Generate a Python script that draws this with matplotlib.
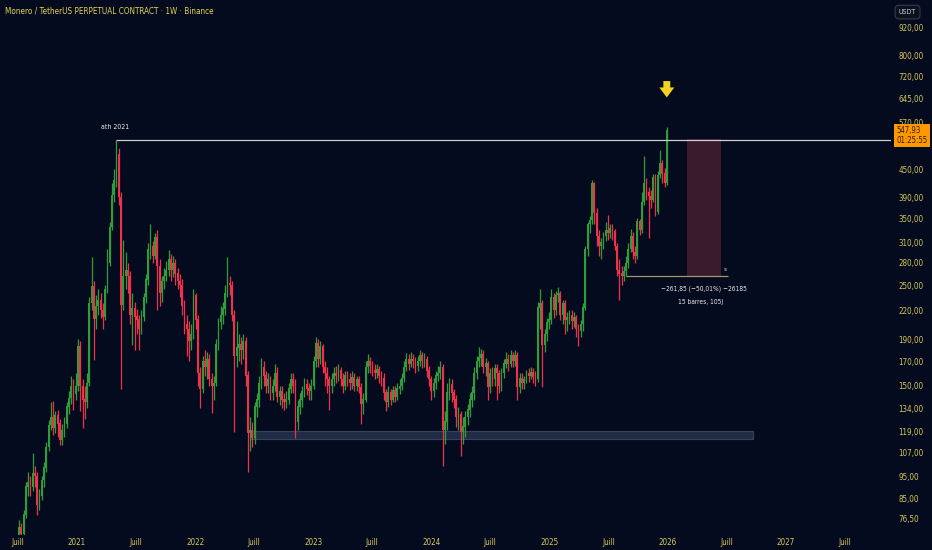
import numpy as np
import pandas as pd
import matplotlib
matplotlib.use("Agg")
import matplotlib.pyplot as plt
import matplotlib.dates as mdates
import matplotlib.transforms as mtransforms
from matplotlib.patches import Rectangle
from matplotlib import font_manager

# weekly XMR/USDT candles, first week 2020-07-06
first_open = 70
closes = [
    73, 71, 78, 90, 92, 90, 96, 95, 82, 86,
    93, 99, 110, 123, 128, 121, 129, 124, 114, 120,
    124, 135, 141, 150, 144, 150, 183, 150, 140, 138,
    152, 228, 249, 211, 225, 232, 220, 213, 245, 280,
    335, 395, 425, 485, 390, 226, 262, 270, 262, 215,
    222, 213, 210, 200, 213, 235, 257, 300, 305, 290,
    318, 275, 240, 255, 262, 270, 285, 270, 280, 265,
    255, 250, 225, 205, 200, 188, 195, 237, 210, 160,
    148, 170, 165, 172, 155, 150, 152, 185, 207, 215,
    222, 240, 252, 250, 215, 175, 182, 185, 180, 188,
    158, 118, 120, 115, 135, 140, 152, 165, 158, 150,
    155, 145, 150, 160, 142, 146, 140, 138, 140, 148,
    155, 150, 125, 135, 140, 146, 151, 148, 146, 150,
    170, 186, 172, 183, 165, 160, 155, 150, 155, 160,
    158, 162, 155, 150, 158, 155, 152, 157, 150, 155,
    149, 137, 140, 165, 170, 166, 162, 160, 163, 158,
    156, 145, 138, 145, 140, 147, 142, 148, 150, 156,
    165, 172, 168, 172, 170, 166, 170, 175, 170, 172,
    162, 155, 146, 152, 158, 160, 165, 120, 125, 145,
    151, 145, 140, 128, 130, 119, 122, 128, 133, 140,
    145, 160, 170, 173, 176, 165, 168, 149, 160, 155,
    164, 160, 150, 160, 168, 172, 168, 175, 170, 175,
    149, 156, 152, 155, 160, 158, 161, 157, 155, 223,
    228, 185, 195, 207, 210, 235, 220, 238, 240, 215,
    228, 210, 212, 215, 208, 212, 200, 198, 205, 223,
    300, 340, 348, 420, 360, 320, 305, 310, 320, 330,
    325, 334, 328, 305, 270, 265, 262, 268, 280, 300,
    320, 295, 290, 345, 330, 380, 420, 400, 392, 385,
    432, 362, 437, 465, 440, 420, 547.93,
]
highs = [
    76, 75, 80, 92, 97, 95, 107, 100, 97, 89,
    95, 102, 113, 126, 138, 139, 132, 133, 127, 124,
    128, 138, 146, 158, 155, 160, 190, 188, 155, 150,
    160, 235, 288, 255, 238, 245, 240, 228, 250, 300,
    345, 420, 450, 522, 500, 400, 314, 295, 280, 268,
    240, 230, 222, 215, 220, 240, 265, 310, 340, 312,
    325, 330, 285, 262, 272, 282, 298, 292, 290, 285,
    272, 265, 258, 232, 215, 208, 205, 245, 240, 215,
    165, 175, 180, 178, 176, 160, 158, 190, 212, 225,
    230, 250, 288, 262, 255, 220, 208, 195, 192, 195,
    192, 162, 128, 125, 138, 145, 158, 173, 170, 162,
    160, 158, 155, 168, 165, 150, 150, 145, 146, 152,
    160, 160, 155, 140, 145, 150, 156, 155, 152, 155,
    175, 192, 190, 188, 186, 170, 165, 158, 160, 165,
    166, 168, 165, 160, 162, 162, 160, 162, 160, 158,
    158, 152, 145, 170, 176, 174, 170, 168, 168, 166,
    162, 160, 148, 150, 148, 150, 150, 152, 155, 160,
    170, 177, 176, 178, 176, 174, 175, 180, 178, 177,
    175, 166, 158, 156, 162, 166, 170, 168, 132, 152,
    156, 155, 148, 143, 135, 132, 128, 132, 137, 145,
    150, 165, 175, 183, 181, 180, 173, 170, 164, 165,
    168, 168, 163, 164, 172, 178, 176, 180, 178, 180,
    178, 160, 160, 158, 163, 164, 165, 164, 162, 230,
    245, 232, 200, 212, 218, 245, 240, 243, 248, 243,
    232, 232, 218, 220, 220, 218, 215, 205, 210, 228,
    305, 345, 355, 425, 422, 370, 330, 318, 328, 345,
    356, 340, 340, 332, 310, 285, 275, 275, 290, 310,
    332, 328, 305, 352, 350, 400, 480, 430, 410, 405,
    440, 438, 445, 496, 472, 452, 556,
]
lows = [
    66, 68, 70, 77, 86, 86, 88, 90, 78, 80,
    84, 90, 97, 108, 120, 117, 118, 116, 111, 111,
    116, 121, 130, 137, 133, 140, 146, 132, 121, 127,
    134, 150, 220, 171, 200, 215, 212, 200, 210, 240,
    275, 330, 380, 410, 375, 148, 220, 245, 240, 205,
    185, 180, 195, 180, 195, 208, 228, 250, 285, 280,
    285, 220, 225, 230, 245, 255, 262, 255, 260, 250,
    245, 235, 215, 195, 175, 170, 180, 190, 200, 150,
    134, 145, 158, 155, 150, 131, 140, 150, 180, 200,
    205, 215, 235, 238, 208, 119, 165, 170, 168, 172,
    150, 97, 108, 110, 112, 128, 135, 148, 150, 145,
    145, 140, 140, 146, 138, 136, 134, 133, 134, 137,
    145, 145, 115, 120, 130, 135, 142, 143, 140, 140,
    148, 165, 165, 168, 160, 150, 145, 133, 145, 150,
    152, 154, 150, 145, 147, 150, 147, 148, 146, 146,
    145, 124, 130, 138, 160, 160, 158, 155, 156, 152,
    150, 140, 132, 135, 136, 138, 138, 140, 144, 147,
    153, 162, 163, 165, 164, 160, 162, 166, 164, 165,
    157, 150, 140, 142, 148, 154, 155, 100, 112, 120,
    140, 138, 134, 122, 120, 105, 112, 116, 123, 128,
    135, 140, 155, 165, 166, 160, 158, 140, 145, 150,
    150, 140, 145, 146, 156, 164, 162, 165, 165, 166,
    140, 145, 148, 148, 152, 153, 155, 152, 150, 153,
    200, 149, 178, 188, 200, 205, 212, 215, 230, 210,
    205, 195, 198, 205, 200, 202, 192, 184, 192, 198,
    220, 290, 325, 340, 340, 305, 290, 285, 300, 312,
    315, 318, 315, 298, 262, 232, 250, 255, 262, 272,
    295, 285, 280, 285, 322, 325, 375, 385, 318, 370,
    380, 355, 358, 430, 420, 410, 415,
]

price_ticks = [76.5, 85, 95, 107, 119, 134, 150, 170, 190, 220, 250, 280,
               310, 350, 390, 450, 570, 645, 720, 800, 920]
ath_price = 522
support_low, support_high = 114.5, 119.7
range_top, range_bottom = 523.7, 261.85

bg = "#050b1e"
txt = "#d8c85a"
up_col = "#2f9e3a"
dn_col = "#ef3249"

# prefer a narrow face, TradingView labels are condensed
fonts = font_manager.fontManager.ttflist
names = {f.name for f in fonts}
if "Liberation Sans Narrow" in names:
    plt.rcParams["font.family"] = ["Liberation Sans Narrow", "DejaVu Sans"]
elif any(f.name == "DejaVu Sans" and "condensed" in str(f.stretch) for f in fonts):
    plt.rcParams["font.family"] = ["DejaVu Sans"]
    plt.rcParams["font.stretch"] = "condensed"
else:
    plt.rcParams["font.family"] = ["DejaVu Sans"]

weeks = pd.date_range("2020-07-06", periods=len(closes), freq="7D")
x = mdates.date2num(weeks)
c = np.array(closes, dtype=float)
o = np.array([first_open] + closes[:-1], dtype=float)
h = np.array(highs, dtype=float)
l = np.array(lows, dtype=float)
cols = np.where(c >= o, up_col, dn_col)

fig = plt.figure(figsize=(9.32, 5.5), dpi=100, facecolor=bg)
ax = fig.add_axes([0, 15 / 550, 891 / 932, 535 / 550], facecolor=bg)

ax.vlines(x, l, h, colors=cols, linewidth=0.9, zorder=3)
ax.bar(x, np.abs(c - o) + 0.3, bottom=np.minimum(o, c), width=5.4,
       color=cols, linewidth=0, zorder=4)

ax.set_yscale("log")
ax.set_ylim(70.5, 1060)
ax.set_xlim(mdates.date2num(pd.Timestamp("2020-05-08")),
            mdates.date2num(pd.Timestamp("2027-11-22")))

# ath line
ax.hlines(ath_price, x[43], ax.get_xlim()[1], color="#cfcfcf", linewidth=0.9, zorder=5)
ax.text(x[43] - 4, 558, "ath 2021", color="#e8e8e8", fontsize=5,
        ha="center", va="center", zorder=6)

# support zone
s0 = mdates.date2num(pd.Timestamp("2022-06-20"))
s1 = mdates.date2num(pd.Timestamp("2026-09-21"))
ax.add_patch(Rectangle((s0, support_low), s1 - s0, support_high - support_low,
                       facecolor="#24304a", edgecolor="#3a4866", linewidth=0.8,
                       alpha=0.9, zorder=2))

# projected range box
r0 = mdates.date2num(pd.Timestamp("2026-03-02"))
r1 = mdates.date2num(pd.Timestamp("2026-06-15"))
ax.add_patch(Rectangle((r0, range_bottom), r1 - r0, range_top - range_bottom,
                       facecolor="#3a1a2d", edgecolor="none", zorder=2))
t0 = mdates.date2num(pd.Timestamp("2025-08-25"))
t1 = mdates.date2num(pd.Timestamp("2026-07-06"))
ax.hlines(range_bottom, t0, t1, color="#a2956a", linewidth=0.9, zorder=5)
ax.text(t1 - 10, range_bottom * 1.035, "s", color="#e8e8e8", fontsize=4.5,
        ha="center", va="center")
rc = (r0 + r1) / 2
ax.text(rc, 245, "\u2212261,85 (\u221250,01%) \u221226185", color="#e8e8e8",
        fontsize=4.8, ha="center", va="center")
ax.text(rc - 12, 229.5, "15 barres, 105j", color="#e8e8e8", fontsize=4.8,
        ha="center", va="center")

# yellow arrow over last candle
ax.annotate("", xy=(x[-1], 647), xytext=(x[-1], 703),
            arrowprops=dict(arrowstyle="simple,head_length=0.8,head_width=1.2,tail_width=0.55",
                            mutation_scale=9, color="#f3d21c", lw=0,
                            shrinkA=0, shrinkB=0))

# axes styling
for sp in ax.spines.values():
    sp.set_visible(False)
ax.yaxis.tick_right()
ax.set_yticks(price_ticks)
ax.set_yticklabels([f"{v:.2f}".replace(".", ",") for v in price_ticks])
ax.yaxis.set_minor_locator(matplotlib.ticker.NullLocator())
ax.tick_params(axis="y", length=0, pad=5.5, labelsize=5.8, labelcolor=txt)

xt, xl = [], []
for yr in range(2020, 2028):
    if yr > 2020:
        xt.append(pd.Timestamp(f"{yr}-01-01"))
        xl.append(str(yr))
    xt.append(pd.Timestamp(f"{yr}-07-01"))
    xl.append("Juill")
ax.set_xticks(mdates.date2num(xt))
ax.set_xticklabels(xl)
ax.tick_params(axis="x", length=0, pad=2, labelsize=5.8, labelcolor=txt)

# last price tag
tr = mtransforms.blended_transform_factory(fig.transFigure, ax.transData)
ax.text(0.9615, 534, f"{closes[-1]:.2f}".replace(".", ",") + "\n01:25:55",
        transform=tr, fontsize=5.6, color="#2a1a05", ha="left", va="center",
        linespacing=1.05, zorder=10, clip_on=False,
        bbox=dict(boxstyle="square,pad=0.3", facecolor="#ff9800", edgecolor="none"))

fig.text(0.005, 0.98, "Monero / TetherUS PERPETUAL CONTRACT \u00b7 1W \u00b7 Binance",
         color="#e6d44e", fontsize=5.9, ha="left", va="center")
fig.text(0.9645, 0.978, "USDT", color="#d0d0d0", fontsize=5, ha="left", va="center",
         bbox=dict(boxstyle="round,pad=0.55", facecolor="#0c1120", edgecolor="#353a48",
                   linewidth=0.8))

fig.savefig("out.png", dpi=100, facecolor=bg)
